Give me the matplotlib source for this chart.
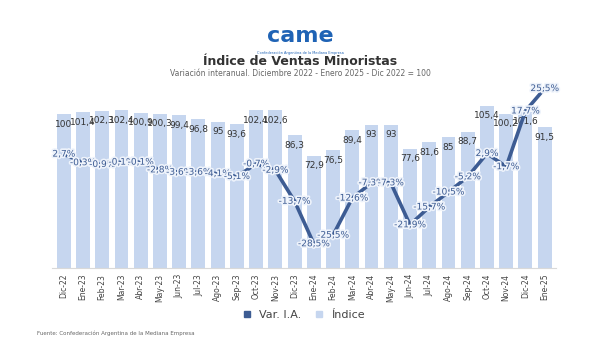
import matplotlib.pyplot as plt
import matplotlib.patheffects as pe
from matplotlib.lines import Line2D
import numpy as np

months = ["Dic-22", "Ene-23", "Feb-23", "Mar-23", "Abr-23", "May-23", "Jun-23", "Jul-23",
          "Ago-23", "Sep-23", "Oct-23", "Nov-23", "Dic-23", "Ene-24", "Feb-24", "Mar-24",
          "Abr-24", "May-24", "Jun-24", "Jul-24", "Ago-24", "Sep-24", "Oct-24", "Nov-24",
          "Dic-24", "Ene-25"]
indice = [100, 101.4, 102.3, 102.4, 100.9, 100.3, 99.4, 96.8, 95, 93.6, 102.4, 102.6,
          86.3, 72.9, 76.5, 89.4, 93, 93, 77.6, 81.6, 85, 88.7, 105.4, 100.2, 101.6, 91.5]
var_ia = [2.7, -0.3, -0.9, -0.1, -0.1, -2.8, -3.6, -3.6, -4.1, -5.1, -0.7, -2.9,
          -13.7, -28.5, -25.5, -12.6, -7.3, -7.3, -21.9, -15.7, -10.5, -5.2, 2.9, -1.7,
          17.7, 25.5]

BAR = "#c6d6ef"
LINE = "#3d5c93"

def fmt(v):
    s = f"{v:.1f}".replace(".", ",")
    if s.endswith(",0"):
        s = s[:-2]
    return s

fig = plt.figure(figsize=(6, 3.6), dpi=100)
ax = fig.add_axes([0.087, 0.255, 0.84, 0.535])
x = np.arange(len(months))

ax.bar(x, indice, width=0.72, color=BAR, zorder=1)
for xi, v in zip(x, indice):
    ax.annotate(fmt(v), (xi, v), xytext=(0, -4), textcoords="offset points",
                ha="center", va="top", fontsize=6.5, color="#333333", zorder=2)
ax.set_ylim(0, 125)
ax.set_xlim(-0.6, len(months) - 0.4)
ax.set_yticks([])
ax.set_xticks(x)
ax.set_xticklabels(months, rotation=90, fontsize=5.5, color="#444444")
ax.tick_params(axis="x", length=0, pad=4)
for s in ["top", "right", "left"]:
    ax.spines[s].set_visible(False)
ax.spines["bottom"].set_color("#d9d9d9")

ax2 = ax.twinx()
ax2.plot(x, var_ia, color=LINE, lw=2.6, zorder=3)
for xi, v in zip(x, var_ia):
    ax2.text(xi, v, fmt(v) + "%", ha="center", va="center", fontsize=6.5, color=LINE,
             path_effects=[pe.withStroke(linewidth=2.4, foreground="#eef3fb")], zorder=4)
ax2.set_ylim(-37, 30)
ax2.set_yticks([])
for s in ["top", "right", "left", "bottom"]:
    ax2.spines[s].set_visible(False)

# logo + titles
fig.text(0.5, 0.90, "came", ha="center", va="center", fontsize=16, fontweight="bold",
         color="#1f63b5")
fig.text(0.5, 0.852, "Confederación Argentina de la Mediana Empresa", ha="center",
         va="center", fontsize=2.5, color="#1f63b5")
fig.text(0.5, 0.828, "Índice de Ventas Minoristas", ha="center", va="center",
         fontsize=9, fontweight="bold", color="#333333")
fig.text(0.5, 0.797, "Variación interanual. Diciembre 2022 - Enero 2025 - Dic 2022 = 100",
         ha="center", va="center", fontsize=5.5, color="#666666")

# legend
handles = [Line2D([], [], marker="s", color=LINE, lw=0, markersize=5),
           Line2D([], [], marker="s", color=BAR, lw=0, markersize=5)]
fig.legend(handles, ["Var. I.A.", "Índice"], loc="center", bbox_to_anchor=(0.5, 0.125),
           ncol=2, frameon=False, fontsize=8, handletextpad=0.1, columnspacing=0.6,
           labelcolor="#444444")

fig.text(0.062, 0.075, "Fuente: Confederación Argentina de la Mediana Empresa",
         fontsize=4, color="#666666", va="center")

fig.savefig("out.png", dpi=100)
